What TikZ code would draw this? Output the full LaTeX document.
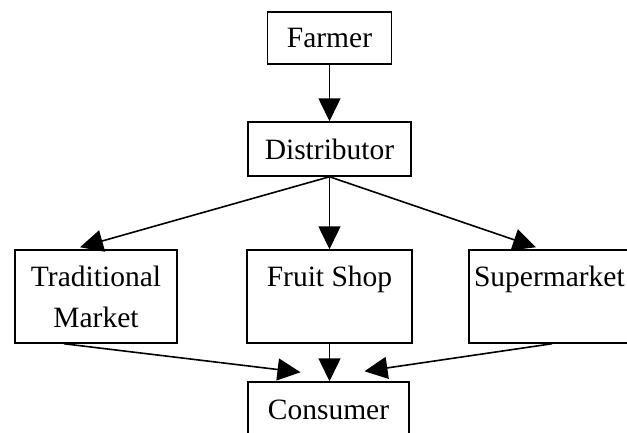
\documentclass[tikz,border=0pt]{standalone}
\usepackage{fontspec}
\setmainfont{Liberation Serif}
\usetikzlibrary{arrows.meta,positioning}

\tikzset{
  stage/.style={draw, line width=1.5pt, align=center, inner sep=2pt,
    font=\fontsize{29.5}{41}\selectfont},
  flow/.style={line width=1.6pt, -{Triangle[length=23pt, width=22pt]}}
}

\begin{document}
\begin{tikzpicture}[x=1pt, y=-1pt]
\useasboundingbox (0,0) rectangle (627,432);

\node[stage, minimum width=124pt, minimum height=52pt] (farmer) at (329.5, 38) {Farmer};

\node[stage, minimum width=163pt, minimum height=54pt] (distributor) at (329.5, 149) {Distributor};

\node[stage, minimum width=162pt, minimum height=93pt] (traditional) at (96, 296.5) {Traditional\\Market};
\node[stage, minimum width=165pt, minimum height=93pt] (fruitshop) at (329.5, 296.5) {Fruit Shop\\~};
\node[stage, minimum width=172pt, minimum height=93pt, inner xsep=5pt, text width=162pt, align=left] (supermarket) at (555, 296.5) {Supermarket\\~};

\node[stage, minimum width=161pt, minimum height=56pt] (consumer) at (328.5, 410) {Consumer};

\draw[flow] (farmer) -- (distributor);

\draw[flow] (distributor.south) -- ([xshift=-16pt, yshift=2pt]traditional.north);
\draw[flow] (distributor.south) -- (fruitshop.north);
\draw[flow] (distributor.south) -- ([xshift=-19pt, yshift=2pt]supermarket.north);

\draw[flow] ([xshift=-32pt]traditional.south) -- ([xshift=-28pt, yshift=9pt]consumer.north);
\draw[flow] (fruitshop.south) -- ([xshift=1pt]consumer.north);
\draw[flow] ([xshift=-3pt]supermarket.south) -- ([xshift=36pt, yshift=10pt]consumer.north);

\end{tikzpicture}
\end{document}
